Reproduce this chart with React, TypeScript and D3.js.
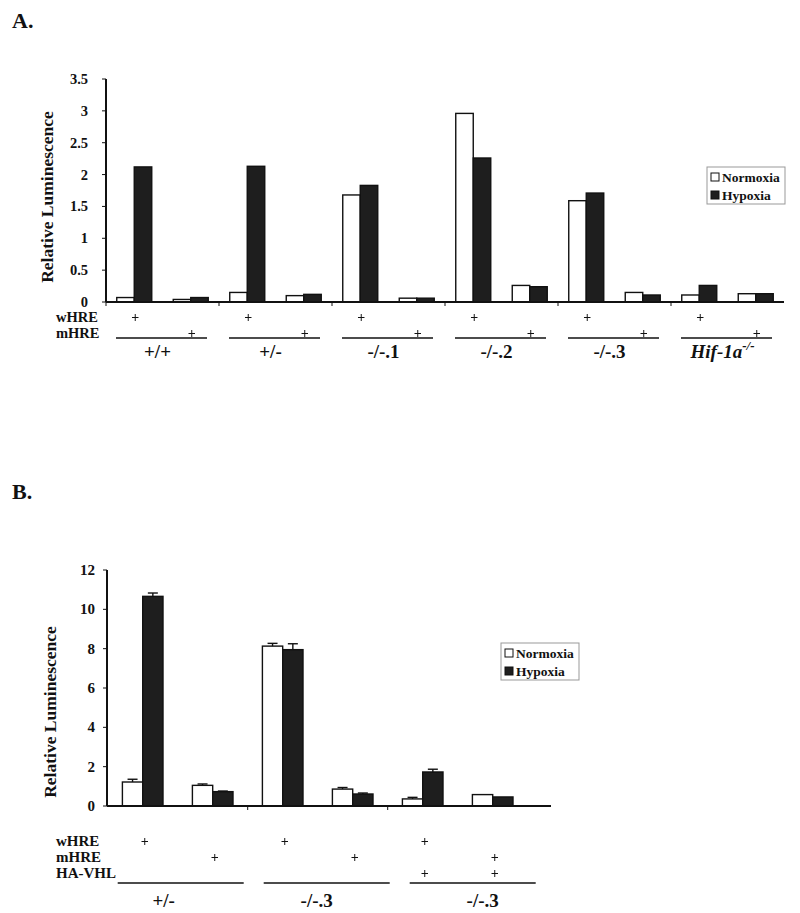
import React from "react";
import * as d3 from "d3";

// ---------- Data: panel A ----------
const groupsA = ["+/+", "+/-", "-/-.1", "-/-.2", "-/-.3", "Hif-1a"];
const conditionsA = ["wHRE", "mHRE"];
const normoxiaA = [0.07, 0.04, 0.15, 0.1, 1.68, 0.06, 2.96, 0.26, 1.59, 0.15, 0.11, 0.13];
const hypoxiaA = [2.12, 0.07, 2.13, 0.12, 1.83, 0.06, 2.26, 0.24, 1.71, 0.11, 0.26, 0.13];
const ticksA = [0, 0.5, 1, 1.5, 2, 2.5, 3, 3.5];

// ---------- Data: panel B ----------
const groupsB = ["+/-", "-/-.3", "-/-.3"];
const normoxiaB = [1.22, 1.05, 8.13, 0.86, 0.36, 0.58];
const normoxiaErrB = [0.14, 0.07, 0.14, 0.08, 0.08, 0.0];
const hypoxiaB = [10.66, 0.73, 7.95, 0.61, 1.73, 0.46];
const hypoxiaErrB = [0.17, 0.03, 0.3, 0.05, 0.14, 0.0];
const ticksB = [0, 2, 4, 6, 8, 10, 12];
const rowsB = ["wHRE", "mHRE", "HA-VHL"];
const plusB = [
  [1, 0, 1, 0, 1, 0],
  [0, 1, 0, 1, 0, 1],
  [0, 0, 0, 0, 1, 1],
];
const seriesNames = ["Normoxia", "Hypoxia"];

const FONT = "'Liberation Serif', 'Times New Roman', serif";
const DARK = "#1e1e1e";
const INK = "#111";

export default function App() {
  // ----- Panel A scales -----
  const catA = d3.range(groupsA.length * 2).map(String);
  const xA = d3.scaleBand().domain(catA).range([106, 784]).padding(0);
  const yA = d3.scaleLinear().domain([0, 3.5]).range([302, 79]);
  const bwA = 17.5;

  // ----- Panel B scales -----
  const catB = d3.range(groupsB.length * 2).map(String);
  const xB = d3.scaleBand().domain(catB).range([107.7, 527.7]).padding(0);
  const yB = d3.scaleLinear().domain([0, 12]).range([806, 570]);
  const bwB = 20.3;

  const plus = (key: string, cx: number, cy: number) => (
    <text key={key} x={cx} y={cy} textAnchor="middle" dominantBaseline="central" fontFamily={FONT} fontWeight="bold" fontSize={14} fill={INK}>
      +
    </text>
  );

  const legend = (x: number, y: number) => (
    <g transform={`translate(${x},${y})`}>
      <rect x={0} y={0} width={78} height={37} fill="#fff" stroke="#999" strokeWidth={1} />
      {seriesNames.map((s, i) => (
        <g key={s} transform={`translate(4,${10 + i * 18})`}>
          <rect x={0} y={-4} width={8} height={8} fill={i === 0 ? "#fff" : DARK} stroke={INK} strokeWidth={1} />
          <text x={11} y={0} dominantBaseline="central" fontFamily={FONT} fontWeight="bold" fontSize={13.5} fill={INK}>
            {s}
          </text>
        </g>
      ))}
    </g>
  );

  const groupLabelOffsetB = [-17, -10, 10];
  const plusStyle = { filter: "grayscale(1)" };

  return (
    <svg width={800} height={913} style={{ position: "absolute", left: 0, top: 0, background: "#fff" }}>
      {/* ================= Panel A ================= */}
      <text x={12} y={28} fontFamily={FONT} fontWeight="bold" fontSize={22} fill={INK}>A.</text>

      <text
        transform={`translate(47,197) rotate(-90)`}
        textAnchor="middle"
        dominantBaseline="central"
        fontFamily={FONT}
        fontWeight="bold"
        fontSize={17.5}
        fill={INK}
      >
        Relative Luminescence
      </text>

      {ticksA.map((t) => (
        <g key={t}>
          <line x1={102} x2={106} y1={yA(t)} y2={yA(t)} stroke={INK} strokeWidth={1} />
          <text x={88} y={yA(t)} textAnchor="end" dominantBaseline="central" fontFamily={FONT} fontWeight="bold" fontSize={14.5} fill={INK}>
            {String(t)}
          </text>
        </g>
      ))}

      {catA.map((c, i) => {
        const cx = (xA(c) as number) + xA.bandwidth() / 2;
        return (
          <g key={c}>
            <rect x={cx - bwA} y={yA(normoxiaA[i])} width={bwA} height={yA(0) - yA(normoxiaA[i])} fill="#fff" stroke={INK} strokeWidth={1.4} />
            <rect x={cx} y={yA(hypoxiaA[i])} width={bwA} height={yA(0) - yA(hypoxiaA[i])} fill={DARK} stroke={INK} strokeWidth={1.4} />
          </g>
        );
      })}

      <line x1={106} x2={106} y1={yA(3.5)} y2={yA(0)} stroke={INK} strokeWidth={2} />
      <line x1={106} x2={784} y1={yA(0)} y2={yA(0)} stroke={INK} strokeWidth={2} />
      {groupsA.map((g, gi) => {
        const x0 = xA(String(gi * 2)) as number;
        return <line key={"tk" + gi} x1={x0} x2={x0} y1={yA(0)} y2={yA(0) + 4} stroke={INK} strokeWidth={1} />;
      })}

      {conditionsA.map((r, ri) => (
        <text key={r} x={56} y={317 + ri * 16} dominantBaseline="central" fontFamily={FONT} fontWeight="bold" fontSize={14.5} fill={INK}>
          {r}
        </text>
      ))}
      <g style={plusStyle}>
        {catA.map((c, i) => {
          const cx = (xA(c) as number) + xA.bandwidth() / 2 + 1;
          return plus("p" + c, cx, 317 + (i % 2) * 16);
        })}
      </g>

      {groupsA.map((g, gi) => {
        const x0 = xA(String(gi * 2)) as number;
        const x1 = x0 + xA.bandwidth() * 2;
        const lx0 = x0 + 10;
        const lx1 = x1 - 12;
        const mid = (lx0 + lx1) / 2 - 4;
        return (
          <g key={"g" + gi}>
            <line x1={lx0} x2={lx1} y1={338} y2={338} stroke={INK} strokeWidth={1.5} />
            {gi === groupsA.length - 1 ? (
              <text x={mid} y={358} textAnchor="middle" fontFamily={FONT} fontWeight="bold" fontStyle="italic" fontSize={19} fill={INK}>
                {g}
                <tspan fontSize={13} dy={-8}>-/-</tspan>
              </text>
            ) : (
              <text x={mid} y={358} textAnchor="middle" fontFamily={FONT} fontWeight="bold" fontSize={19} fill={INK}>
                {g}
              </text>
            )}
          </g>
        );
      })}

      {legend(707, 167)}

      {/* ================= Panel B ================= */}
      <text x={12} y={499} fontFamily={FONT} fontWeight="bold" fontSize={22} fill={INK}>B.</text>

      <text
        transform={`translate(50,712) rotate(-90)`}
        textAnchor="middle"
        dominantBaseline="central"
        fontFamily={FONT}
        fontWeight="bold"
        fontSize={17.5}
        fill={INK}
      >
        Relative Luminescence
      </text>

      {ticksB.map((t) => (
        <g key={t}>
          <line x1={103} x2={107} y1={yB(t)} y2={yB(t)} stroke={INK} strokeWidth={1} />
          <text x={95} y={yB(t)} textAnchor="end" dominantBaseline="central" fontFamily={FONT} fontWeight="bold" fontSize={15} fill={INK}>
            {String(t)}
          </text>
        </g>
      ))}

      {catB.map((c, i) => {
        const cx = (xB(c) as number) + xB.bandwidth() / 2;
        const nTop = yB(normoxiaB[i]);
        const hTop = yB(hypoxiaB[i]);
        const nErr = yB(normoxiaB[i] + normoxiaErrB[i]);
        const hErr = yB(hypoxiaB[i] + hypoxiaErrB[i]);
        return (
          <g key={c}>
            <rect x={cx - bwB} y={nTop} width={bwB} height={yB(0) - nTop} fill="#fff" stroke={INK} strokeWidth={1.4} />
            <rect x={cx} y={hTop} width={bwB} height={yB(0) - hTop} fill={DARK} stroke={INK} strokeWidth={1.4} />
            {normoxiaErrB[i] > 0 && (
              <g stroke={INK} strokeWidth={1.4}>
                <line x1={cx - bwB / 2} x2={cx - bwB / 2} y1={nTop} y2={nErr} />
                <line x1={cx - bwB / 2 - 5} x2={cx - bwB / 2 + 5} y1={nErr} y2={nErr} />
              </g>
            )}
            {hypoxiaErrB[i] > 0 && (
              <g stroke={INK} strokeWidth={1.4}>
                <line x1={cx + bwB / 2} x2={cx + bwB / 2} y1={hTop} y2={hErr} />
                <line x1={cx + bwB / 2 - 5} x2={cx + bwB / 2 + 5} y1={hErr} y2={hErr} />
              </g>
            )}
          </g>
        );
      })}

      <line x1={107} x2={107} y1={yB(12)} y2={yB(0)} stroke={INK} strokeWidth={2} />
      <line x1={107} x2={551} y1={yB(0)} y2={yB(0)} stroke={INK} strokeWidth={2} />
      {groupsB.map((g, gi) => {
        if (gi === 0) return null;
        const x0 = xB(String(gi * 2)) as number;
        return <line key={"tkb" + gi} x1={x0} x2={x0} y1={yB(0)} y2={yB(0) + 4} stroke={INK} strokeWidth={1} />;
      })}

      {rowsB.map((r, ri) => (
        <text key={r} x={56} y={841 + ri * 16} dominantBaseline="central" fontFamily={FONT} fontWeight="bold" fontSize={15} fill={INK}>
          {r}
        </text>
      ))}
      <g style={plusStyle}>
        {rowsB.map((r, ri) =>
          catB.map((c, i) => {
            if (!plusB[ri][i]) return null;
            const cx = (xB(c) as number) + xB.bandwidth() / 2 + 2;
            return plus(r + c, cx, 841 + ri * 16);
          })
        )}
      </g>

      {groupsB.map((g, gi) => {
        const x0 = xB(String(gi * 2)) as number;
        const lx0 = x0 + 10 + gi * 6;
        const lx1 = lx0 + 126;
        const mid = (lx0 + lx1) / 2 + groupLabelOffsetB[gi];
        return (
          <g key={"gb" + gi}>
            <line x1={lx0} x2={lx1} y1={883} y2={883} stroke={INK} strokeWidth={1.5} />
            <text x={mid} y={907} textAnchor="middle" fontFamily={FONT} fontWeight="bold" fontSize={19} fill={INK}>
              {g}
            </text>
          </g>
        );
      })}

      {legend(501, 643)}
    </svg>
  );
}
